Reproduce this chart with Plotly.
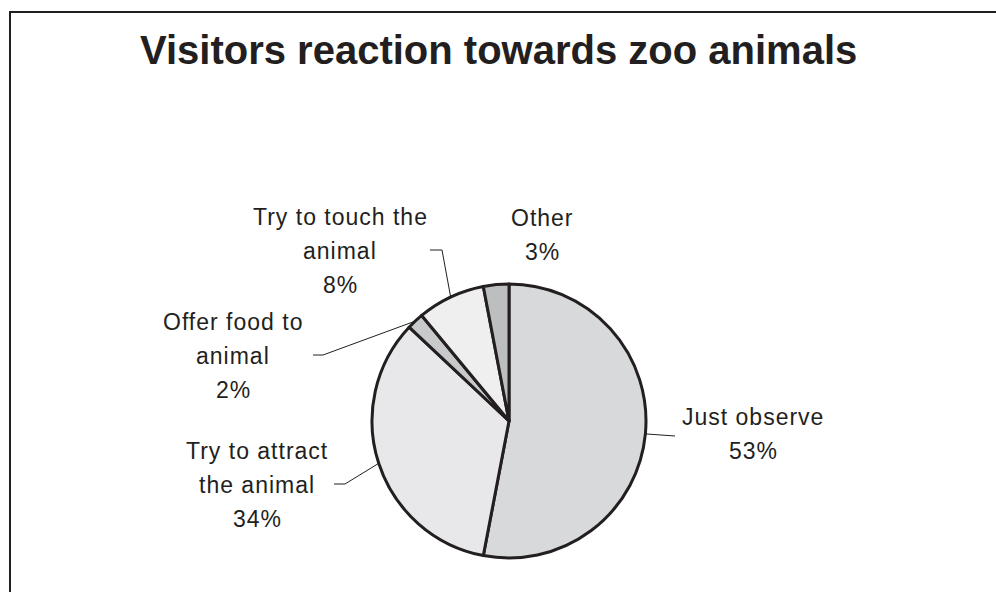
import plotly.graph_objects as go
import math

# ---- data ----
categories = ["Just observe", "Try to attract the animal", "Offer food to animal",
              "Try to touch the animal", "Other"]
values = [53, 34, 2, 8, 3]
label_lines = [
    ["Just observe", "53%"],
    ["Try to attract", "the animal", "34%"],
    ["Offer food to", "animal", "2%"],
    ["Try to touch the", "animal", "8%"],
    ["Other", "3%"],
]

# ---- styles / layout ----
colors = ["#d8d9db", "#e8e8ea", "#c8c9cb", "#efefef", "#bdbec0"]
W, H = 996, 592
CX, CY, R = 509, 421, 137          # pie centre & radius in pixels
label_pos = [(753, 417), (257, 451), (233, 322), (340, 217), (542, 218)]  # first-line centre
line_gap = 34
leader_pts = [
    [(675, 436)],
    [(345, 484), (334, 484)],
    [(323, 355), (313, 355)],
    [(442, 250), (430, 250)],
    None,
]
ink = "#231f20"
FONT = "Liberation Sans, Arial, sans-serif"


def px(x):
    return x / W


def py(y):
    return 1 - y / H


fig = go.Figure(go.Pie(
    labels=categories,
    values=values,
    sort=False,
    direction="clockwise",
    rotation=0,
    textinfo="none",
    hoverinfo="label+percent",
    marker=dict(colors=colors, line=dict(color=ink, width=3)),
    domain=dict(x=[px(CX - R), px(CX + R)], y=[py(CY + R), py(CY - R)]),
    showlegend=False,
))

annotations = []
shapes = []
total = sum(values)
cum = 0
for i, v in enumerate(values):
    mid = (cum + v / 2) / total * 2 * math.pi
    cum += v
    ex = CX + R * math.sin(mid)
    ey = CY - R * math.cos(mid)
    lx, ly = label_pos[i]
    for k, t in enumerate(label_lines[i]):
        annotations.append(dict(
            x=px(lx), y=py(ly + k * line_gap), xref="paper", yref="paper",
            text=f'<span style="letter-spacing:1px">{t}</span>',
            showarrow=False, xanchor="center", yanchor="middle",
            font=dict(family=FONT, size=23, color=ink),
        ))
    if leader_pts[i]:
        pts = [(ex, ey)] + leader_pts[i]
        path = "M " + " L ".join(f"{px(a)},{py(b)}" for a, b in pts)
        shapes.append(dict(type="path", path=path, xref="paper", yref="paper",
                           line=dict(color=ink, width=1)))

# frame (partially visible)
shapes.append(dict(type="rect", xref="paper", yref="paper",
                   x0=px(10), x1=px(W + 20), y0=py(H + 20), y1=py(12),
                   line=dict(color=ink, width=2), layer="above"))

annotations.append(dict(
    x=0.5, y=py(50), xref="paper", yref="paper",
    text="<b>Visitors reaction towards zoo animals</b>", showarrow=False,
    xanchor="center", yanchor="middle",
    font=dict(family=FONT, size=40, color=ink),
))

fig.update_layout(
    width=W, height=H,
    margin=dict(l=0, r=0, t=0, b=0),
    paper_bgcolor="white", plot_bgcolor="white",
    annotations=annotations, shapes=shapes,
)

fig.write_html("out.html")
